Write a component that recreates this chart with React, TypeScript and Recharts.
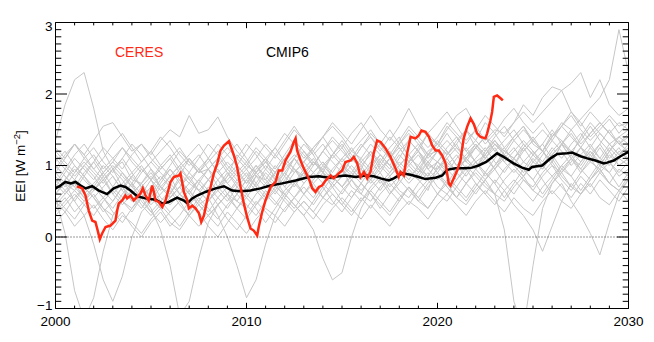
import React from "react";
import { LineChart, Line, XAxis, YAxis, ReferenceLine } from "recharts";

const FONT = '"Liberation Sans", Arial, Helvetica, sans-serif';

// ---- axis ticks ----
const xTicks = [2000, 2001, 2002, 2003, 2004, 2005, 2006, 2007, 2008, 2009, 2010, 2011, 2012, 2013, 2014, 2015, 2016, 2017, 2018, 2019, 2020, 2021, 2022, 2023, 2024, 2025, 2026, 2027, 2028, 2029, 2030];
const xLabelTicks = [2000, 2010, 2020, 2030];
const yTicks = [-1, -0.9, -0.8, -0.7, -0.6, -0.5, -0.4, -0.3, -0.2, -0.1, 0, 0.1, 0.2, 0.3, 0.4, 0.5, 0.6, 0.7, 0.8, 0.9, 1, 1.1, 1.2, 1.3, 1.4, 1.5, 1.6, 1.7, 1.8, 1.9, 2, 2.1, 2.2, 2.3, 2.4, 2.5, 2.6, 2.7, 2.8, 2.9, 3];
const yLabelTicks = [-1, 0, 1, 2, 3];

// ---- model time grid (half-year) ----
const modelYears = [2000, 2000.5, 2001, 2001.5, 2002, 2002.5, 2003, 2003.5, 2004, 2004.5, 2005, 2005.5, 2006, 2006.5, 2007, 2007.5, 2008, 2008.5, 2009, 2009.5, 2010, 2010.5, 2011, 2011.5, 2012, 2012.5, 2013, 2013.5, 2014, 2014.5, 2015, 2015.5, 2016, 2016.5, 2017, 2017.5, 2018, 2018.5, 2019, 2019.5, 2020, 2020.5, 2021, 2021.5, 2022, 2022.5, 2023, 2023.5, 2024, 2024.5, 2025, 2025.5, 2026, 2026.5, 2027, 2027.5, 2028, 2028.5, 2029, 2029.5, 2030];

const model01 = [1.35, 1.85, 2.2, 2.3, 1.8, 1.2, 0.95, 1.05, 0.8, 0.75, 0.95, 0.7, 0.6, 0.85, 1.1, 0.9, 0.95, 0.7, 0.85, 1.15, 1.0, 0.9, 1.1, 0.8, 0.75, 1.0, 1.2, 1.05, 0.9, 1.15, 1.3, 1.1, 0.95, 1.2, 1.05, 1.25, 1.4, 1.1, 1.0, 1.2, 1.3, 1.15, 1.35, 1.5, 1.25, 1.1, 1.3, 1.2, 1.4, 1.55, 1.3, 1.2, 1.45, 1.35, 1.15, 1.4, 1.6, 1.45, 1.3, 1.4, 1.5];
const model02 = [0.55, 0.05, -0.75, -1.15, -0.85, -0.2, 0.3, 0.5, 0.4, 0.6, 0.8, 0.55, 0.45, 0.6, 0.75, 0.65, 0.5, 0.7, 0.9, 0.75, 0.6, 0.85, 0.8, 1.0, 0.85, 0.7, 0.9, 1.05, 0.95, 0.8, 1.0, 0.9, 0.75, 0.95, 1.15, 1.0, 0.85, 1.05, 1.2, 1.0, 0.95, 1.15, 1.3, 1.05, 0.95, 1.2, 1.35, 1.15, 1.0, 1.25, 1.4, 1.2, 1.05, 1.3, 1.45, 1.25, 1.1, 1.3, 1.5, 1.3, 1.2];
const model03 = [0.9, 0.75, 0.5, 0.3, -0.1, -0.6, -0.9, -0.55, 0.0, 0.35, 0.5, 0.7, 0.85, 0.6, 0.5, 0.75, 0.95, 1.1, 0.9, 0.7, 0.85, 1.0, 0.8, 0.65, 0.85, 1.1, 1.3, 1.15, 0.9, 0.8, 0.95, 0.7, 0.6, 0.85, 1.05, 0.9, 1.1, 1.35, 1.2, 0.95, 1.05, 0.9, 1.1, 1.25, 1.05, 0.85, 1.0, 1.2, 1.1, 0.95, 1.15, 1.3, 1.1, 0.9, 1.05, 1.25, 1.15, 1.0, 1.2, 1.35, 1.15];
const model04 = [0.6, 0.8, 1.0, 0.85, 0.65, 0.8, 0.95, 0.7, 0.5, 0.6, 0.4, 0.1, -0.4, -1.1, -0.9, -0.3, 0.2, 0.45, 0.6, 0.5, 0.7, 0.9, 0.75, 0.6, 0.8, 0.95, 0.85, 1.05, 0.9, 0.7, 0.85, 1.1, 0.95, 0.8, 1.0, 1.2, 1.0, 0.85, 0.95, 1.15, 1.05, 1.25, 1.4, 1.2, 1.05, 1.15, 1.35, 1.2, 1.1, 1.3, 1.15, 1.0, 1.2, 1.35, 1.2, 1.05, 1.25, 1.45, 1.3, 1.15, 1.25];
const model05 = [1.0, 0.85, 0.7, 0.9, 1.05, 0.85, 0.6, 0.75, 0.9, 0.7, 0.55, 0.75, 0.95, 0.8, 0.6, 0.45, 0.55, 0.3, 0.0, -0.4, -0.85, -0.6, -0.1, 0.3, 0.55, 0.75, 0.6, 0.8, 1.0, 0.85, 0.7, 0.9, 1.1, 0.95, 0.75, 0.9, 1.05, 0.9, 0.8, 1.0, 1.2, 1.0, 0.9, 1.1, 1.3, 1.15, 0.95, 1.1, 1.25, 1.05, 0.95, 1.15, 1.35, 1.2, 1.0, 1.15, 1.3, 1.1, 1.0, 1.2, 1.1];
const model06 = [0.4, 0.55, 0.35, 0.5, 0.7, 0.55, 0.4, 0.6, 0.75, 0.5, 0.35, 0.5, 0.65, 0.45, 0.3, 0.5, 0.7, 0.55, 0.4, 0.6, 0.8, 0.65, 0.5, 0.7, 0.6, 0.45, 0.3, 0.1, -0.3, -0.6, -0.5, 0.0, 0.4, 0.65, 0.8, 0.6, 0.75, 0.95, 0.8, 0.65, 1.0, 0.85, 0.7, 0.9, 1.05, 0.9, 0.75, 0.95, 1.1, 0.95, 0.8, 1.0, 1.15, 0.95, 0.85, 1.05, 1.2, 1.0, 0.9, 1.1, 1.0];
const model07 = [0.75, 0.95, 0.8, 0.6, 0.75, 0.9, 0.7, 0.55, 0.75, 0.95, 0.8, 0.65, 0.85, 1.0, 0.8, 0.65, 0.8, 0.95, 0.75, 0.6, 0.8, 1.0, 0.85, 0.7, 0.9, 1.1, 0.95, 0.8, 0.95, 1.15, 1.0, 0.85, 1.05, 1.2, 1.0, 0.85, 1.0, 1.15, 0.95, 0.85, 1.05, 0.95, 0.8, 1.0, 0.85, 0.7, 0.6, 0.1, -0.9, -1.3, -0.4, 0.4, 0.75, 0.95, 1.1, 0.9, 1.05, 1.25, 1.05, 0.9, 1.05];
const model08 = [0.3, 0.45, 0.6, 0.45, 0.3, 0.5, 0.65, 0.5, 0.35, 0.55, 0.7, 0.5, 0.35, 0.5, 0.65, 0.45, 0.3, 0.45, 0.6, 0.4, 0.25, 0.45, 0.6, 0.75, 0.55, 0.4, 0.6, 0.75, 0.55, 0.45, 0.65, 0.8, 0.6, 0.5, 0.7, 0.85, 0.65, 0.55, 0.75, 0.9, 0.7, 0.6, 0.8, 0.95, 0.75, 0.6, 0.8, 0.65, 0.45, 0.3, 0.1, -0.2, 0.15, 0.5, 0.75, 0.6, 0.8, 0.95, 0.75, 0.65, 0.85];
const model09 = [1.1, 0.95, 1.15, 1.3, 1.1, 0.9, 1.05, 1.25, 1.1, 0.95, 0.8, 1.0, 1.15, 0.95, 0.8, 0.95, 1.1, 0.9, 0.75, 0.9, 1.05, 0.85, 0.7, 0.9, 1.1, 0.95, 0.8, 1.0, 1.2, 1.05, 0.9, 1.1, 1.3, 1.15, 0.95, 1.1, 1.25, 1.05, 0.9, 1.15, 1.35, 1.2, 1.0, 1.15, 1.3, 1.1, 0.95, 1.15, 1.0, 0.85, 1.0, 0.8, 0.6, 0.75, 0.5, 0.3, 0.05, -0.25, 0.2, 0.6, 0.8];
const model10 = [0.9, 1.1, 1.3, 1.15, 1.35, 1.55, 1.6, 1.4, 1.2, 1.3, 1.15, 1.35, 1.5, 1.4, 1.7, 1.45, 1.5, 1.68, 1.4, 1.2, 1.05, 1.25, 1.1, 0.95, 1.15, 1.35, 1.2, 1.0, 1.2, 1.4, 1.25, 1.05, 1.25, 1.45, 1.3, 1.1, 1.3, 1.5, 1.35, 1.15, 1.3, 1.55, 1.4, 1.2, 1.35, 1.6, 1.45, 1.25, 1.4, 1.55, 1.35, 1.2, 1.4, 1.6, 1.5, 1.3, 1.45, 1.6, 1.45, 1.3, 1.4];
const model11 = [0.65, 0.8, 0.95, 0.8, 0.65, 0.85, 1.0, 0.85, 0.7, 0.9, 1.05, 0.9, 0.75, 0.95, 1.1, 0.95, 0.8, 1.0, 1.15, 1.3, 1.1, 0.9, 1.05, 1.25, 1.45, 1.3, 1.1, 1.25, 1.4, 1.55, 1.4, 1.2, 1.35, 1.5, 1.3, 1.15, 1.35, 1.55, 1.4, 1.25, 1.4, 1.6, 1.45, 1.3, 1.5, 1.7, 1.55, 1.4, 1.6, 1.85, 1.7, 1.95, 2.1, 2.05, 1.75, 1.55, 1.75, 1.6, 1.45, 1.6, 1.5];
const model12 = [0.5, 0.65, 0.8, 0.7, 0.55, 0.7, 0.85, 0.65, 0.5, 0.7, 0.85, 0.7, 0.55, 0.7, 0.9, 0.75, 0.6, 0.8, 0.95, 0.8, 0.65, 0.85, 1.0, 0.85, 0.7, 0.9, 1.05, 0.9, 0.75, 0.95, 1.1, 0.95, 0.8, 1.0, 1.15, 1.0, 0.85, 1.05, 1.2, 1.05, 0.9, 1.1, 1.25, 1.1, 0.95, 1.15, 1.3, 1.15, 1.0, 1.2, 1.35, 1.2, 1.05, 1.3, 1.5, 1.65, 1.8, 1.95, 2.2, 2.9, 2.3];
const model13 = [1.2, 1.05, 0.9, 1.1, 1.25, 1.05, 0.9, 1.1, 1.3, 1.15, 0.95, 0.8, 1.0, 1.2, 1.05, 0.9, 1.1, 1.3, 1.15, 1.0, 1.2, 1.4, 1.25, 1.1, 1.3, 1.5, 1.35, 1.2, 1.4, 1.6, 1.45, 1.3, 1.5, 1.7, 1.5, 1.35, 1.55, 1.8, 1.55, 1.4, 1.3, 1.5, 1.7, 1.8, 1.55, 1.35, 1.5, 1.45, 1.6, 1.75, 1.6, 1.75, 1.9, 2.05, 2.15, 2.3, 1.95, 2.2, 1.85, 1.7, 1.8];
const model14 = [0.2, 0.35, 0.15, 0.3, 0.45, 0.25, 0.1, 0.3, 0.2, 0.05, 0.25, 0.4, 0.2, 0.1, 0.3, 0.45, 0.3, 0.15, 0.35, 0.2, 0.05, 0.25, 0.4, 0.3, 0.15, 0.35, 0.5, 0.35, 0.2, 0.4, 0.55, 0.4, 0.25, 0.45, 0.3, 0.15, 0.35, 0.5, 0.4, 0.25, 0.45, 0.6, 0.45, 0.3, 0.5, 0.65, 0.5, 0.35, 0.55, 0.4, 0.3, 0.5, 0.65, 0.5, 0.4, 0.6, 0.75, 0.55, 0.45, 0.65, 0.5];
const model15 = [0.75, 0.6, 0.8, 1.0, 0.85, 0.65, 0.5, 0.7, 0.85, 0.7, 0.55, 0.4, 0.6, 0.8, 0.65, 0.5, 0.35, 0.55, 0.7, 0.5, 0.4, 0.6, 0.75, 0.9, 0.7, 0.55, 0.75, 0.9, 1.05, 0.85, 0.7, 0.85, 1.0, 0.8, 0.65, 0.85, 1.0, 1.15, 0.95, 0.8, 0.95, 1.1, 0.9, 0.75, 0.95, 1.1, 1.25, 1.05, 0.9, 1.05, 1.2, 1.0, 0.85, 1.0, 1.15, 0.95, 0.8, 1.0, 1.2, 1.0, 1.1];
const model16 = [0.45, 0.6, 0.75, 0.55, 0.4, 0.55, 0.35, 0.2, 0.4, 0.55, 0.35, 0.2, 0.35, 0.5, 0.3, 0.15, 0.3, 0.45, 0.25, 0.1, 0.3, 0.5, 0.35, 0.2, 0.4, 0.55, 0.4, 0.25, 0.45, 0.6, 0.45, 0.3, 0.5, 0.65, 0.5, 0.35, 0.55, 0.7, 0.5, 0.4, 0.6, 0.75, 0.55, 0.45, 0.65, 0.8, 0.6, 0.5, 0.7, 0.85, 0.65, 0.55, 0.75, 0.9, 0.7, 0.6, 0.8, 0.95, 0.75, 0.65, 0.8];
const model17 = [1.05, 1.2, 1.0, 0.85, 1.05, 1.25, 1.1, 0.95, 1.15, 1.3, 1.1, 0.95, 1.1, 1.25, 1.05, 0.9, 1.05, 1.2, 1.0, 0.85, 1.0, 1.2, 1.05, 0.9, 1.1, 1.3, 1.15, 1.0, 1.2, 1.35, 1.2, 1.05, 1.25, 1.4, 1.25, 1.1, 1.3, 1.45, 1.3, 1.15, 1.2, 1.35, 1.2, 1.05, 1.25, 1.4, 1.3, 1.15, 1.35, 1.5, 1.35, 1.2, 1.4, 1.55, 1.4, 1.25, 1.45, 1.6, 1.45, 1.3, 1.45];
const model18 = [0.8, 0.65, 0.5, 0.7, 0.55, 0.35, 0.5, 0.7, 0.55, 0.4, 0.6, 0.8, 0.95, 0.75, 0.6, 0.8, 0.65, 0.45, 0.6, 0.8, 0.95, 0.75, 0.6, 0.45, 0.65, 0.8, 0.6, 0.45, 0.65, 0.85, 0.7, 0.55, 0.75, 0.6, 0.4, 0.6, 0.8, 0.65, 0.5, 0.7, 0.85, 0.7, 0.55, 0.75, 0.9, 0.75, 0.6, 0.8, 0.95, 0.8, 0.7, 0.9, 1.05, 0.85, 0.7, 0.9, 1.1, 0.9, 0.75, 0.95, 0.85];
const model19 = [0.55, 0.4, 0.25, 0.45, 0.6, 0.4, 0.2, 0.35, 0.15, 0.0, 0.2, 0.35, 0.15, 0.3, 0.5, 0.35, 0.15, 0.0, 0.2, 0.4, 0.55, 0.4, 0.2, 0.4, 0.6, 0.45, 0.3, 0.5, 0.7, 0.5, 0.35, 0.55, 0.75, 0.6, 0.45, 0.3, 0.5, 0.7, 0.55, 0.4, 0.6, 0.8, 0.65, 0.5, 0.7, 0.9, 0.75, 0.55, 0.75, 0.95, 0.8, 0.6, 0.8, 1.0, 0.85, 0.65, 0.85, 1.05, 0.9, 0.7, 0.9];
const model20 = [1.25, 1.1, 1.3, 1.15, 0.95, 1.1, 1.3, 1.45, 1.25, 1.05, 1.2, 1.4, 1.25, 1.05, 0.9, 1.1, 1.3, 1.15, 0.95, 1.1, 1.3, 1.15, 0.95, 1.15, 1.35, 1.55, 1.35, 1.15, 1.3, 1.1, 1.25, 1.45, 1.6, 1.4, 1.2, 1.4, 1.25, 1.05, 1.25, 1.45, 1.6, 1.75, 1.55, 1.35, 1.5, 1.3, 1.45, 1.65, 1.8, 1.6, 1.45, 1.6, 1.4, 1.55, 1.75, 1.6, 1.4, 1.55, 1.7, 1.55, 1.6];
const model21 = [0.85, 0.7, 0.9, 1.05, 0.9, 0.75, 0.95, 0.8, 0.6, 0.75, 0.9, 0.7, 0.55, 0.7, 0.85, 0.65, 0.5, 0.65, 0.85, 1.0, 0.85, 0.7, 0.9, 0.75, 0.95, 1.1, 0.9, 0.75, 0.9, 0.7, 0.85, 1.0, 0.85, 1.05, 0.9, 0.7, 0.85, 1.0, 1.15, 0.95, 0.8, 1.0, 1.15, 0.95, 1.1, 1.25, 1.05, 0.9, 1.1, 1.25, 1.05, 0.95, 1.15, 1.3, 1.1, 1.0, 1.2, 1.05, 1.25, 1.1, 1.2];
const model22 = [0.6, 0.75, 0.65, 0.85, 0.7, 0.55, 0.7, 0.9, 0.75, 0.6, 0.45, 0.6, 0.75, 0.6, 0.45, 0.6, 0.8, 0.65, 0.5, 0.7, 0.55, 0.75, 0.95, 0.8, 0.6, 0.75, 0.9, 0.7, 0.55, 0.75, 0.95, 0.8, 0.65, 0.8, 0.95, 1.1, 0.9, 0.75, 0.9, 1.05, 0.9, 0.75, 0.95, 1.1, 0.95, 0.8, 1.0, 1.15, 1.0, 0.85, 1.05, 1.2, 1.0, 0.9, 1.1, 1.25, 1.05, 0.95, 1.15, 1.0, 1.1];
const model23 = [1.0, 0.85, 0.7, 0.55, 0.7, 0.9, 1.05, 0.9, 0.7, 0.55, 0.7, 0.85, 0.7, 0.5, 0.65, 0.8, 0.95, 0.8, 0.6, 0.75, 0.9, 0.7, 0.55, 0.75, 0.9, 0.75, 0.95, 1.1, 0.9, 0.75, 0.6, 0.8, 0.95, 0.75, 0.9, 1.1, 0.95, 0.8, 1.0, 0.85, 1.05, 1.2, 1.0, 0.85, 1.05, 0.9, 1.1, 1.25, 1.05, 0.9, 1.1, 0.95, 1.15, 1.3, 1.1, 0.95, 1.15, 1.3, 1.1, 1.25, 1.05];
const model24 = [0.7, 0.9, 1.1, 0.95, 0.8, 1.0, 0.85, 0.65, 0.85, 1.0, 0.8, 0.95, 1.1, 0.9, 0.75, 0.95, 0.8, 0.65, 0.8, 0.95, 0.75, 0.9, 1.05, 0.9, 1.1, 0.95, 0.75, 0.9, 1.05, 0.9, 1.1, 1.25, 1.05, 0.9, 1.1, 0.95, 1.15, 1.0, 0.85, 1.05, 1.2, 1.05, 0.9, 1.1, 1.25, 1.4, 1.2, 1.05, 1.2, 1.35, 1.2, 1.05, 1.25, 1.1, 1.3, 1.45, 1.25, 1.1, 1.3, 1.15, 1.3];
const model25 = [0.35, 0.5, 0.65, 0.5, 0.65, 0.8, 0.6, 0.45, 0.6, 0.75, 0.55, 0.4, 0.55, 0.7, 0.5, 0.35, 0.5, 0.7, 0.55, 0.4, 0.6, 0.45, 0.65, 0.5, 0.35, 0.55, 0.7, 0.55, 0.75, 0.6, 0.45, 0.65, 0.5, 0.7, 0.85, 0.65, 0.5, 0.7, 0.55, 0.75, 0.9, 0.7, 0.55, 0.75, 0.6, 0.8, 0.95, 0.75, 0.6, 0.8, 0.65, 0.85, 1.0, 0.8, 0.65, 0.85, 0.7, 0.9, 1.05, 0.85, 0.95];
const model26 = [0.95, 1.15, 1.3, 1.1, 0.95, 0.8, 0.95, 1.1, 0.9, 1.05, 1.2, 1.0, 0.85, 1.0, 1.15, 1.3, 1.1, 0.9, 1.05, 0.9, 0.75, 0.95, 1.1, 1.25, 1.05, 0.9, 1.05, 1.2, 1.0, 1.15, 1.35, 1.15, 1.0, 1.15, 1.3, 1.5, 1.3, 1.15, 1.3, 1.1, 1.25, 1.45, 1.25, 1.1, 1.25, 1.4, 1.2, 1.35, 1.5, 1.3, 1.15, 1.3, 1.5, 1.3, 1.2, 1.35, 1.55, 1.35, 1.2, 1.4, 1.3];
const model27 = [0.5, 0.35, 0.55, 0.7, 0.55, 0.4, 0.3, 0.5, 0.65, 0.45, 0.3, 0.45, 0.3, 0.15, 0.35, 0.55, 0.4, 0.25, 0.45, 0.6, 0.45, 0.3, 0.5, 0.65, 0.5, 0.35, 0.5, 0.35, 0.55, 0.7, 0.5, 0.35, 0.55, 0.4, 0.6, 0.75, 0.6, 0.45, 0.65, 0.8, 0.6, 0.5, 0.7, 0.55, 0.75, 0.6, 0.45, 0.65, 0.8, 0.65, 0.5, 0.7, 0.85, 0.7, 0.55, 0.75, 0.6, 0.8, 0.65, 0.5, 0.7];
const model28 = [1.15, 1.0, 0.85, 1.0, 1.15, 0.95, 1.1, 1.25, 1.05, 0.9, 1.05, 1.2, 1.35, 1.15, 1.0, 1.15, 0.95, 1.1, 1.25, 1.1, 0.95, 1.1, 1.3, 1.15, 1.0, 1.15, 1.05, 1.25, 1.4, 1.2, 1.05, 1.2, 1.1, 1.3, 1.15, 1.0, 1.2, 1.35, 1.2, 1.45, 1.3, 1.15, 1.3, 1.5, 1.35, 1.2, 1.4, 1.55, 1.35, 1.2, 1.35, 1.5, 1.35, 1.55, 1.7, 1.5, 1.35, 1.5, 1.65, 1.45, 1.6];

const models = [model01, model02, model03, model04, model05, model06, model07, model08, model09, model10, model11, model12, model13, model14, model15, model16, model17, model18, model19, model20, model21, model22, model23, model24, model25, model26, model27, model28];

// ---- CERES observations ----
const ceresYears = [2001.13, 2001.4, 2001.57, 2001.74, 2001.92, 2002.09, 2002.18, 2002.32, 2002.44, 2002.62, 2002.88, 2003.14, 2003.23, 2003.31, 2003.49, 2003.66, 2003.75, 2003.93, 2004.1, 2004.28, 2004.45, 2004.57, 2004.71, 2004.88, 2005.06, 2005.15, 2005.24, 2005.41, 2005.59, 2005.76, 2006.02, 2006.2, 2006.46, 2006.54, 2006.63, 2006.72, 2006.9, 2006.98, 2007.16, 2007.33, 2007.51, 2007.63, 2007.77, 2007.94, 2008.12, 2008.29, 2008.47, 2008.64, 2008.82, 2009.08, 2009.16, 2009.34, 2009.51, 2009.69, 2009.86, 2010.03, 2010.21, 2010.38, 2010.56, 2010.64, 2010.82, 2010.99, 2011.26, 2011.52, 2011.69, 2011.87, 2012.04, 2012.3, 2012.48, 2012.57, 2012.65, 2012.83, 2013.0, 2013.26, 2013.44, 2013.61, 2013.79, 2013.96, 2014.14, 2014.4, 2014.57, 2014.83, 2015.01, 2015.18, 2015.45, 2015.62, 2015.8, 2015.97, 2016.15, 2016.32, 2016.49, 2016.66, 2016.84, 2017.02, 2017.28, 2017.54, 2017.8, 2017.97, 2018.06, 2018.24, 2018.41, 2018.59, 2018.85, 2019.02, 2019.16, 2019.37, 2019.55, 2019.72, 2019.9, 2020.07, 2020.25, 2020.42, 2020.59, 2020.68, 2020.85, 2021.03, 2021.2, 2021.37, 2021.55, 2021.73, 2021.9, 2022.07, 2022.25, 2022.51, 2022.6, 2022.77, 2022.86, 2022.95, 2023.12, 2023.3, 2023.42];
const ceresValues = [0.71, 0.68, 0.58, 0.37, 0.23, 0.21, 0.12, -0.03, 0.05, 0.14, 0.16, 0.23, 0.37, 0.47, 0.51, 0.58, 0.54, 0.58, 0.51, 0.56, 0.61, 0.68, 0.58, 0.51, 0.72, 0.63, 0.51, 0.49, 0.42, 0.51, 0.77, 0.84, 0.86, 0.89, 0.77, 0.63, 0.51, 0.4, 0.44, 0.4, 0.33, 0.21, 0.3, 0.51, 0.7, 0.89, 1.03, 1.21, 1.28, 1.34, 1.28, 1.14, 0.98, 0.7, 0.47, 0.28, 0.12, 0.09, 0.02, 0.14, 0.35, 0.51, 0.7, 0.77, 0.93, 0.93, 1.07, 1.19, 1.33, 1.38, 1.21, 1.07, 0.96, 0.82, 0.68, 0.63, 0.7, 0.72, 0.79, 0.86, 0.82, 0.89, 0.93, 1.05, 1.07, 1.12, 1.03, 0.84, 0.91, 0.82, 0.91, 1.17, 1.35, 1.33, 1.24, 1.12, 0.96, 0.84, 0.91, 0.86, 1.17, 1.4, 1.38, 1.42, 1.49, 1.47, 1.4, 1.28, 1.21, 1.21, 1.14, 1.03, 0.75, 0.72, 0.82, 0.93, 1.07, 1.38, 1.54, 1.66, 1.58, 1.45, 1.4, 1.38, 1.45, 1.63, 1.75, 1.96, 1.98, 1.94, 1.91];

// ---- CMIP6 ensemble mean ----
const cmipYears = [2000, 2000.26, 2000.52, 2000.79, 2001.05, 2001.31, 2001.57, 2001.92, 2002.27, 2002.7, 2003.05, 2003.4, 2003.66, 2003.93, 2004.28, 2004.71, 2005.24, 2005.59, 2005.93, 2006.37, 2006.72, 2006.9, 2007.16, 2007.42, 2007.85, 2008.38, 2008.82, 2009.25, 2009.69, 2010.21, 2010.73, 2011.26, 2011.87, 2012.57, 2013.26, 2013.79, 2014.31, 2014.83, 2015.18, 2015.71, 2016.23, 2016.66, 2017.02, 2017.45, 2017.71, 2018.15, 2018.59, 2019.02, 2019.37, 2019.9, 2020.25, 2020.5, 2020.94, 2021.47, 2021.81, 2022.15, 2022.55, 2023.12, 2023.46, 2023.98, 2024.43, 2024.78, 2024.95, 2025.48, 2025.92, 2026.27, 2026.79, 2027.05, 2027.49, 2027.84, 2028.27, 2028.71, 2028.88, 2029.23, 2029.58, 2030];
const cmipValues = [0.68, 0.72, 0.77, 0.75, 0.77, 0.72, 0.68, 0.71, 0.65, 0.6, 0.68, 0.72, 0.7, 0.65, 0.57, 0.54, 0.52, 0.47, 0.49, 0.55, 0.51, 0.47, 0.54, 0.58, 0.63, 0.68, 0.71, 0.65, 0.64, 0.65, 0.68, 0.72, 0.75, 0.79, 0.84, 0.85, 0.83, 0.85, 0.86, 0.84, 0.86, 0.85, 0.82, 0.79, 0.82, 0.89, 0.87, 0.84, 0.81, 0.83, 0.86, 0.94, 0.96, 0.96, 0.97, 1.0, 1.05, 1.17, 1.12, 1.03, 0.97, 0.94, 0.98, 1.0, 1.1, 1.16, 1.17, 1.18, 1.13, 1.1, 1.07, 1.03, 1.04, 1.07, 1.13, 1.19];

const toPoints = (ts: number[], vs: number[]) => ts.map((t, i) => ({ t, v: vs[i] }));

const RED = "#ff2a14";
const GREY = "#c6c6c6";

const fmt = (v: number) => (v < 0 ? "\u2212" + String(-v) : String(v));

const BottomTick = (props: any) => {
  const { x, y, payload } = props;
  const major = xLabelTicks.includes(payload.value);
  const len = major ? 5.7 : 2.9;
  return (
    <g>
      <line x1={x} x2={x} y1={y} y2={y - len} stroke="#000" strokeWidth={1} />
      {major && (
        <text x={x} y={y + 17.5} textAnchor="middle" fontSize={13.5} fontFamily={FONT} fill="#000">
          {payload.value}
        </text>
      )}
    </g>
  );
};

const TopTick = (props: any) => {
  const { x, y, payload } = props;
  const major = xLabelTicks.includes(payload.value);
  const len = major ? 5.7 : 2.9;
  return <line x1={x} x2={x} y1={y} y2={y + len} stroke="#000" strokeWidth={1} />;
};

const LeftTick = (props: any) => {
  const { x, y, payload } = props;
  const v = payload.value;
  const major = yLabelTicks.includes(v);
  const len = major ? 11.5 : 5.8;
  let dy = 4.8;
  if (v === 3) dy = 8;
  if (v === -1) dy = 1;
  return (
    <g>
      <line x1={x} x2={x + len} y1={y} y2={y} stroke="#000" strokeWidth={1} />
      {major && (
        <text x={x - 3} y={y + dy} textAnchor="end" fontSize={13.5} fontFamily={FONT} fill="#000">
          {fmt(v)}
        </text>
      )}
    </g>
  );
};

const RightTick = (props: any) => {
  const { x, y, payload } = props;
  const major = yLabelTicks.includes(payload.value);
  const len = major ? 11.5 : 5.8;
  return <line x1={x} x2={x - len} y1={y} y2={y} stroke="#000" strokeWidth={1} />;
};

export default function App() {
  return (
    <div style={{ position: "absolute", left: 0, top: 0, width: 654, height: 342, background: "#fff" }}>
      <LineChart
        width={654}
        height={342}
        margin={{ top: 21.5, right: 24.5, bottom: 32.5, left: 54.5 }}
      >
        <XAxis
          xAxisId="b"
          dataKey="t"
          type="number"
          domain={[2000, 2030]}
          ticks={xTicks}
          interval={0}
          height={1}
          tickSize={0}
          tickMargin={0}
          tickLine={false}
          tick={<BottomTick />}
          axisLine={{ stroke: "#000", strokeWidth: 1 }}
          allowDataOverflow
        />
        <XAxis
          xAxisId="t"
          orientation="top"
          dataKey="t"
          type="number"
          domain={[2000, 2030]}
          ticks={xTicks}
          interval={0}
          height={1}
          tickSize={0}
          tickMargin={0}
          tickLine={false}
          tick={<TopTick />}
          axisLine={{ stroke: "#000", strokeWidth: 1 }}
          allowDataOverflow
        />
        <YAxis
          yAxisId="l"
          type="number"
          domain={[-1, 3]}
          ticks={yTicks}
          interval={0}
          width={1}
          tickSize={0}
          tickMargin={0}
          tickLine={false}
          tick={<LeftTick />}
          axisLine={{ stroke: "#000", strokeWidth: 1 }}
          allowDataOverflow
        />
        <YAxis
          yAxisId="r"
          orientation="right"
          type="number"
          domain={[-1, 3]}
          ticks={yTicks}
          interval={0}
          width={1}
          tickSize={0}
          tickMargin={0}
          tickLine={false}
          tick={<RightTick />}
          axisLine={{ stroke: "#000", strokeWidth: 1 }}
          allowDataOverflow
        />
        {models.map((m, i) => (
          <Line
            key={"m" + i}
            xAxisId="b"
            yAxisId="l"
            data={toPoints(modelYears, m)}
            dataKey="v"
            type="linear"
            stroke={GREY}
            strokeWidth={1}
            dot={false}
            activeDot={false}
            isAnimationActive={false}
          />
        ))}
        <ReferenceLine xAxisId="b" yAxisId="l" y={0} stroke="#333" strokeDasharray="1 2" strokeWidth={1} />
        <Line
          xAxisId="b"
          yAxisId="l"
          data={toPoints(cmipYears, cmipValues)}
          dataKey="v"
          type="linear"
          stroke="#000"
          strokeWidth={2.5}
          dot={false}
          activeDot={false}
          isAnimationActive={false}
        />
        <Line
          xAxisId="b"
          yAxisId="l"
          data={toPoints(ceresYears, ceresValues)}
          dataKey="v"
          type="linear"
          stroke={RED}
          strokeWidth={2.5}
          dot={false}
          activeDot={false}
          isAnimationActive={false}
        />
      </LineChart>
      <svg width={654} height={342} style={{ position: "absolute", left: 0, top: 0, pointerEvents: "none" }}>
        <text x={115} y={57} fontSize={14} fontFamily={FONT} fill={RED}>CERES</text>
        <text x={266} y={57} fontSize={14} fontFamily={FONT} fill="#000">CMIP6</text>
        <text transform="translate(25,166) rotate(-90)" textAnchor="middle" fontSize={13.5} fontFamily={FONT} fill="#000">
          EEI [W m<tspan dy={-5} fontSize={9.5}>{"\u2212"}2</tspan><tspan dy={5}>]</tspan>
        </text>
      </svg>
    </div>
  );
}
